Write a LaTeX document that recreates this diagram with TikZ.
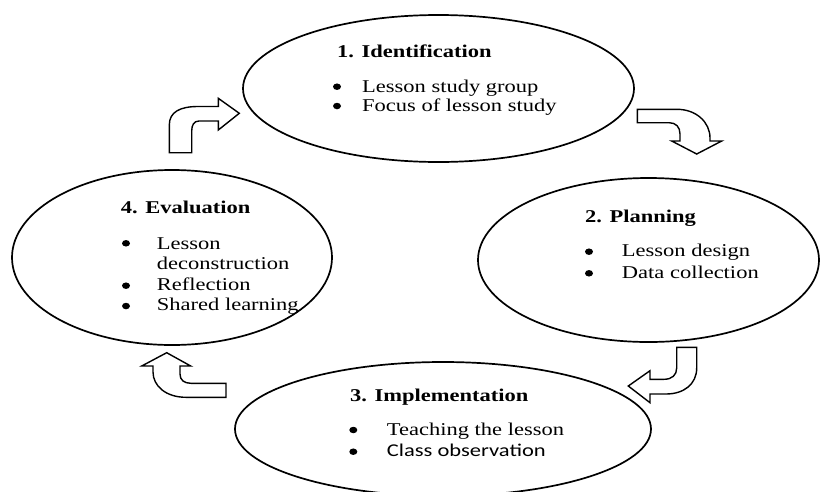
\documentclass[tikz,border=0pt]{standalone}
\usepackage{fontspec}
\setmainfont{Liberation Serif}
\newfontfamily\calib{Carlito}
\usetikzlibrary{shapes.geometric}
\newcommand{\sx}[1]{\scalebox{1.25}[1]{#1}}
\tikzset{
  ell/.style={ellipse, draw, line width=1.7pt, inner sep=0pt},
  txt/.style={anchor=base west, inner sep=0pt, font=\fontsize{18}{21}\selectfont},
  ttl/.style={txt, font=\fontsize{18}{21}\selectfont\bfseries},
  bul/.style={ellipse, fill, inner sep=0pt, minimum width=8pt, minimum height=6.5pt},
  barrow/.style={draw, line width=1.4pt, line join=miter, fill=white}
}
\begin{document}
\begin{tikzpicture}[x=1pt,y=-1pt]
\path[use as bounding box, fill=white] (0,0) rectangle (822,491);
\clip (0,0) rectangle (822,491);
% ellipses
\node[ell, minimum width=391pt, minimum height=147pt] (e1) at (438.5,88.5) {};
\node[ell, minimum width=341pt, minimum height=164pt] (e2) at (648.5,260) {};
\node[ell, minimum width=416pt, minimum height=134pt] (e3) at (443,429) {};
\node[ell, minimum width=320pt, minimum height=175pt] (e4) at (172,257.5) {};
% 1. Identification
\node[ttl] (t1) at (337,57.3) {\sx{1. Identification}};
\node[bul] (b1a) at (337,86.7) {};
\node[txt] (l1a) at (362,92) {\sx{Lesson study group}};
\node[bul] (b1b) at (337,106) {};
\node[txt] (l1b) at (362,111) {\sx{Focus of lesson study}};
% 2. Planning
\node[ttl] (t2) at (585,222.7) {\sx{2. Planning}};
\node[bul] (b2a) at (589,251.7) {};
\node[txt] (l2a) at (621.7,256.7) {\sx{Lesson design}};
\node[bul] (b2b) at (589,273.3) {};
\node[txt] (l2b) at (621.7,278.3) {\sx{Data collection}};
% 3. Implementation
\node[ttl] (t3) at (350,401.7) {\sx{3. Implementation}};
\node[bul] (b3a) at (353.3,430) {};
\node[txt] (l3a) at (386.7,435) {\sx{Teaching the lesson}};
\node[bul] (b3b) at (353.3,451.7) {};
\node[txt, font=\fontsize{18}{21}\selectfont\calib] (l3b) at (386.7,456.7) {\sx{Class observation}};
% 4. Evaluation
\node[ttl] (t4) at (120.7,213.3) {\sx{4. Evaluation}};
\node[bul] (b4a) at (126,243.3) {};
\node[txt] (l4a) at (156.7,249.3) {\sx{Lesson}};
\node[txt] (l4b) at (156.7,269) {\sx{deconstruction}};
\node[bul] (b4b) at (126,285.7) {};
\node[txt] (l4c) at (156.7,290.7) {\sx{Reflection}};
\node[bul] (b4c) at (126,306) {};
\node[txt] (l4d) at (156.7,310.7) {\sx{Shared learning}};
% block arrows
\draw[barrow] (169.3,152.7) -- (169.3,125) .. controls (169.3,112) and (180,106.5) .. (198,106.5) -- (218.3,106.5) -- (218.3,98.3) -- (239.3,113.3) -- (218.3,130) -- (218.3,121) -- (199,121) .. controls (194,121) and (191.7,125) .. (191.7,131) -- (191.7,152.7) -- cycle;
\draw[barrow] (637.3,109.3) -- (677,109.3) .. controls (696,109.3) and (710,122) .. (710,138) -- (710,141) -- (721.7,141) -- (696.7,154) -- (671.7,141) -- (680,141) -- (680,134) .. controls (680,127) and (676,122.7) .. (669,122.7) -- (637.3,122.7) -- cycle;
\draw[barrow] (676.7,347.3) -- (696.7,347.3) -- (696.7,368) .. controls (696.7,384) and (684,394) .. (666,394) -- (650,394) -- (650,402.7) -- (628.3,386) -- (650,370.7) -- (650,379.3) -- (664,379.3) .. controls (672,379.3) and (676.7,375) .. (676.7,368) -- cycle;
\draw[barrow] (166.7,352.7) -- (190.7,366) -- (180,366) -- (180,374) .. controls (180,380) and (184,383.3) .. (191,383.3) -- (226,383.3) -- (226,397.3) -- (186,397.3) .. controls (166,397.3) and (153,386) .. (153,372) -- (153,366) -- (141.7,366) -- cycle;
\end{tikzpicture}
\end{document}
